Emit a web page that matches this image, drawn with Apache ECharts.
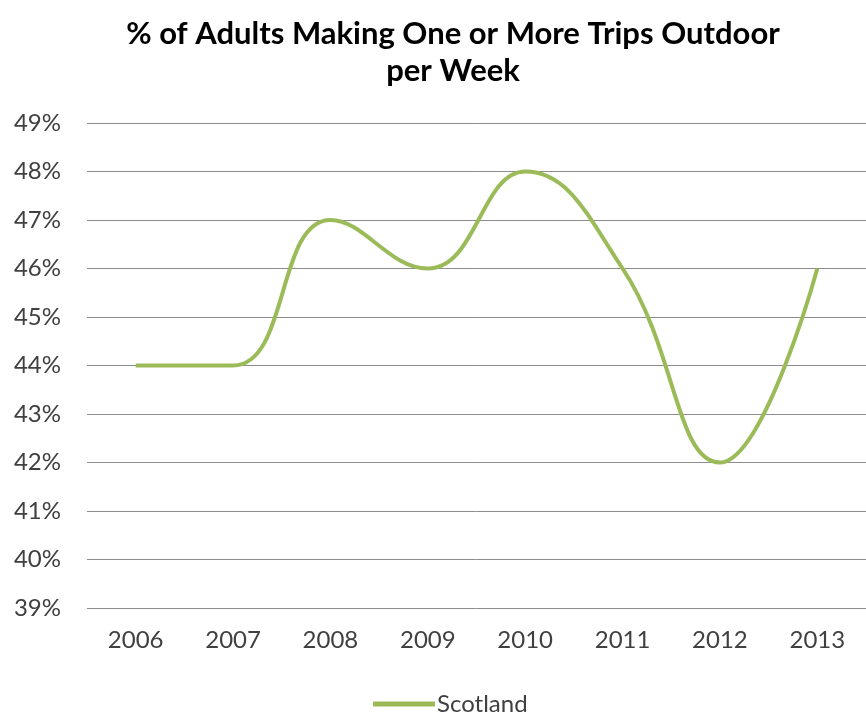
<!DOCTYPE html>
<html>
<head>
<meta charset="utf-8">
<style>
  html, body { margin: 0; padding: 0; background: #fff; }
  #chart { width: 866px; height: 716px; }
</style>
<script src="https://cdn.jsdelivr.net/npm/echarts@6/dist/echarts.min.js"></script>
</head>
<body>
<div id="chart"></div>
<script>
// Survey years and share of adults (%) making one or more outdoor trips per week
const years = ['2006', '2007', '2008', '2009', '2010', '2011', '2012', '2013'];
const scotland = [44, 44, 47, 46, 48, 46, 42, 46];
const seriesName = 'Scotland';
const titleText = '% of Adults Making One or More Trips Outdoor\nper Week';

const font = 'Lato, "Open Sans", "Noto Sans", sans-serif';
const chart = echarts.init(document.getElementById('chart'));
chart.setOption({
  backgroundColor: '#ffffff',
  animation: false,
  title: {
    text: titleText,
    left: 448,
    top: 10,
    textAlign: 'center',
    textStyle: { fontFamily: font, fontSize: 31, fontWeight: 'bold', color: '#000', lineHeight: 37 }
  },
  legend: {
    data: [seriesName],
    top: 692,
    left: 373,
    padding: 0,
    itemWidth: 62,
    itemHeight: 5,
    itemGap: 4,
    icon: 'rect',
    textStyle: { fontFamily: font, fontSize: 24, color: '#404040', padding: [0, 0, 0, -3] }
  },
  grid: { left: 87, width: 790, top: 123, bottom: 108, containLabel: false },
  xAxis: {
    type: 'category',
    data: years,
    boundaryGap: true,
    axisLine: { show: false },
    axisTick: { show: false },
    axisLabel: { fontFamily: font, fontSize: 24, color: '#404040', margin: 20 }
  },
  yAxis: {
    type: 'value',
    min: 39,
    max: 49,
    interval: 1,
    axisLine: { show: false },
    axisTick: { show: false },
    axisLabel: {
      fontFamily: font, fontSize: 24, color: '#404040', margin: 26,
      formatter: v => v + '%'
    },
    splitLine: { lineStyle: { color: '#8c8c8c', width: 1 } }
  },
  series: [{
    name: seriesName,
    type: 'line',
    data: scotland,
    smooth: 0.45,
    symbol: 'none',
    color: '#9bbb59',
    lineStyle: { width: 4, color: '#9bbb59' }
  }]
});
</script>
</body>
</html>
